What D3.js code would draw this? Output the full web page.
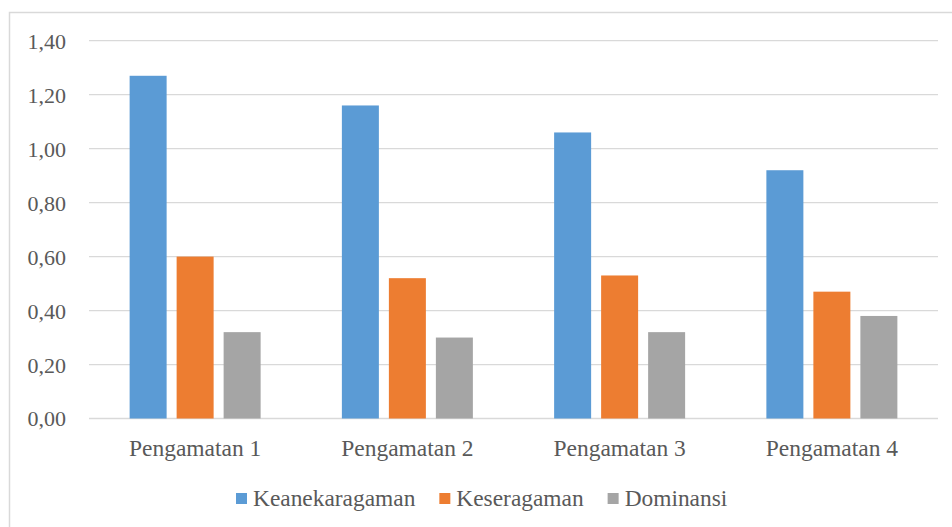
<!DOCTYPE html>
<html><head><meta charset="utf-8">
<script src="https://cdn.jsdelivr.net/npm/d3@7"></script>
<style>body{margin:0;background:#fff}svg{display:block}
svg text{font-family:"Liberation Serif","Times New Roman",Tinos,serif !important;}</style>
</head><body>
<svg id="c" width="952" height="527"></svg>
<script>
const categories = ["Pengamatan 1","Pengamatan 2","Pengamatan 3","Pengamatan 4"];
const seriesNames = ["Keanekaragaman","Keseragaman","Dominansi"];
const keanekaragaman = [1.27, 1.16, 1.06, 0.92];
const keseragaman = [0.60, 0.52, 0.53, 0.47];
const dominansi = [0.32, 0.30, 0.32, 0.38];
const yTicks = [0,0.2,0.4,0.6,0.8,1.0,1.2,1.4];
const colors = ["#5b9bd5","#ed7d31","#a5a5a5"];
const seriesValues = [keanekaragaman, keseragaman, dominansi];

(function(){
const svg = d3.select("#c");
svg.append("rect").attr("x",9.5).attr("y",12.5).attr("width",960).attr("height",530)
  .attr("fill","#fff").attr("stroke","#d9d9d9").attr("stroke-width",1.5);

const pLeft=89, pRight=938, pTop=40.7, pBottom=418.5;
const x = d3.scaleBand().domain(categories).range([pLeft,pRight]).paddingInner(0).paddingOuter(0);
const y = d3.scaleLinear().domain([0,1.4]).range([pBottom,pTop]);

svg.append("g").selectAll("line").data(yTicks).join("line")
  .attr("x1",pLeft).attr("x2",pRight).attr("y1",d=>y(d)).attr("y2",d=>y(d))
  .attr("stroke","#d9d9d9").attr("stroke-width",1.3);

const yAxis = d3.axisLeft(y).tickValues(yTicks).tickSize(0).tickPadding(0)
  .tickFormat(d=>d3.format(".2f")(d).replace(".",","));
const ya = svg.append("g").attr("transform",`translate(66,0)`).call(yAxis);
ya.select(".domain").remove();
ya.selectAll("text").attr("font-size",22).attr("fill","#595959").attr("dy","0.34em");

const xAxis = d3.axisBottom(x).tickSize(0).tickPadding(0);
const xa = svg.append("g").attr("transform",`translate(0,${pBottom})`).call(xAxis);
xa.select(".domain").remove();
xa.selectAll("text").attr("font-size",23.5).attr("fill","#595959")
  .attr("dy",null).attr("y",37);

const bw = 37, step = 47;
const inner = d3.scaleBand().domain(seriesNames).range([-step*1.5, step*1.5]);
seriesNames.forEach((s,i)=>{
  svg.append("g").selectAll("rect").data(seriesValues[i]).join("rect")
    .attr("x",(d,j)=>x(categories[j])+x.bandwidth()/2+inner(s)+(step-bw)/2)
    .attr("width",bw)
    .attr("y",d=>y(d)).attr("height",d=>pBottom-y(d))
    .attr("fill",colors[i]);
});

const lg = svg.append("g");
let lx = 236;
seriesNames.forEach((s,i)=>{
  lg.append("rect").attr("x",lx).attr("y",493).attr("width",11).attr("height",11).attr("fill",colors[i]);
  const t = lg.append("text").attr("x",lx+17).attr("y",505.5).attr("font-size",23.4)
    .attr("fill","#595959").text(s);
  const w = t.node().getComputedTextLength();
  lx = lx+17+w+24;
});
})();
</script>
</body></html>
